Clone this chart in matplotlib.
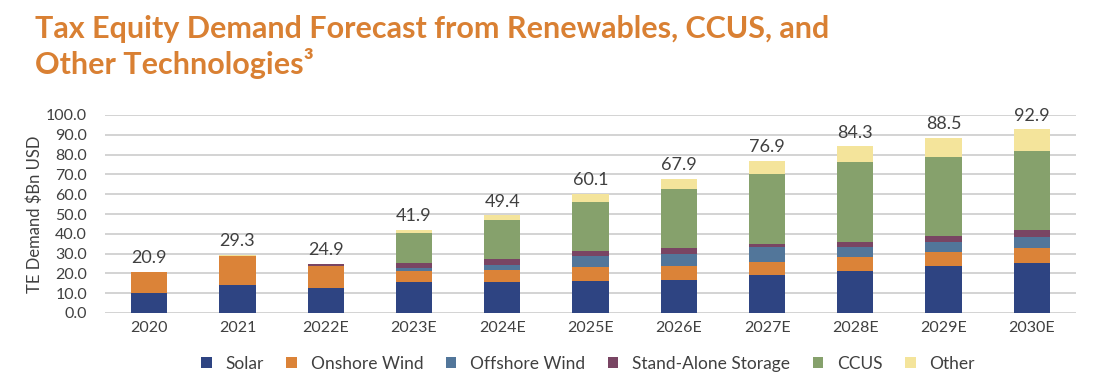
import matplotlib
matplotlib.use("Agg")
import matplotlib.pyplot as plt
import numpy as np

categories = ["2020", "2021", "2022E", "2023E", "2024E", "2025E", "2026E", "2027E", "2028E", "2029E", "2030E"]
solar = [10.0, 14.0, 12.6, 15.7, 15.7, 16.4, 16.7, 19.0, 21.3, 23.5, 25.5]
onshore = [10.9, 15.0, 11.0, 5.5, 6.1, 6.7, 7.1, 6.7, 7.1, 7.1, 7.2]
offshore = [0.0, 0.0, 0.2, 1.7, 2.5, 5.7, 6.1, 7.5, 4.9, 5.1, 5.7]
storage = [0.0, 0.0, 1.1, 2.6, 3.0, 2.7, 3.0, 1.8, 2.7, 3.0, 3.4]
ccus = [0.0, 0.0, 0.0, 14.8, 19.8, 24.7, 29.7, 35.1, 40.1, 40.0, 39.9]
other = [0.0, 0.3, 0.0, 1.6, 2.3, 3.9, 5.3, 6.8, 8.2, 9.8, 11.2]
totals = [20.9, 29.3, 24.9, 41.9, 49.4, 60.1, 67.9, 76.9, 84.3, 88.5, 92.9]

series_names = ["Solar", "Onshore Wind", "Offshore Wind", "Stand-Alone Storage", "CCUS", "Other"]
series = [solar, onshore, offshore, storage, ccus, other]
colors = ["#2e4482", "#db8338", "#52769a", "#794563", "#86a16c", "#f4e49b"]

plt.rcParams['font.family'] = ['Lato', 'DejaVu Sans']

fig = plt.figure(figsize=(11, 3.84), dpi=100)
ax = fig.add_axes([105/1100, 1-313/384, (1076-105)/1100, (313-115)/384])

x = np.arange(len(categories))
bottom = np.zeros(len(categories))
for name, vals, c in zip(series_names, series, colors):
    v = np.array(vals)
    ax.bar(x, v, width=0.41, bottom=bottom, color=c, label=name, zorder=3)
    bottom += v

for xi, t in zip(x, totals):
    ax.text(xi, t + 2.8, f"{t:.1f}", ha="center", va="bottom", fontsize=13, color="#404040", clip_on=False)

ax.set_xlim(-0.5, len(categories) - 0.5)
ax.set_ylim(0, 100)
ax.set_yticks(np.arange(0, 101, 10))
ax.set_yticklabels([f"{v:.1f}" for v in np.arange(0, 101, 10)])
ax.set_xticks(x)
ax.set_xticklabels(categories)
ax.tick_params(axis="both", length=0, labelsize=11.5, colors="#404040")
ax.tick_params(axis="y", pad=13)
ax.tick_params(axis="x", pad=6)
ax.grid(axis="y", color="#d0d0d0", linewidth=1.3, zorder=0)
for s in ax.spines.values():
    s.set_visible(False)
ax.set_ylabel("TE Demand $Bn USD", fontsize=12, color="#404040", labelpad=2)

fig.text(35/1100, 1-15/384, "Tax Equity Demand Forecast from Renewables, CCUS, and\nOther Technologies³",
         ha="left", va="top", fontsize=22, fontweight="bold", color="#d98033", linespacing=1.2)

handles, labels = ax.get_legend_handles_labels()
fig.legend(handles, labels, loc="center", bbox_to_anchor=(588/1100, 1-364/384), ncol=6, frameon=False,
           fontsize=12.5, handlelength=0.6, handleheight=0.6, columnspacing=1.3, handletextpad=0.8,
           labelcolor="#404040")

fig.savefig("out.png", dpi=100)
